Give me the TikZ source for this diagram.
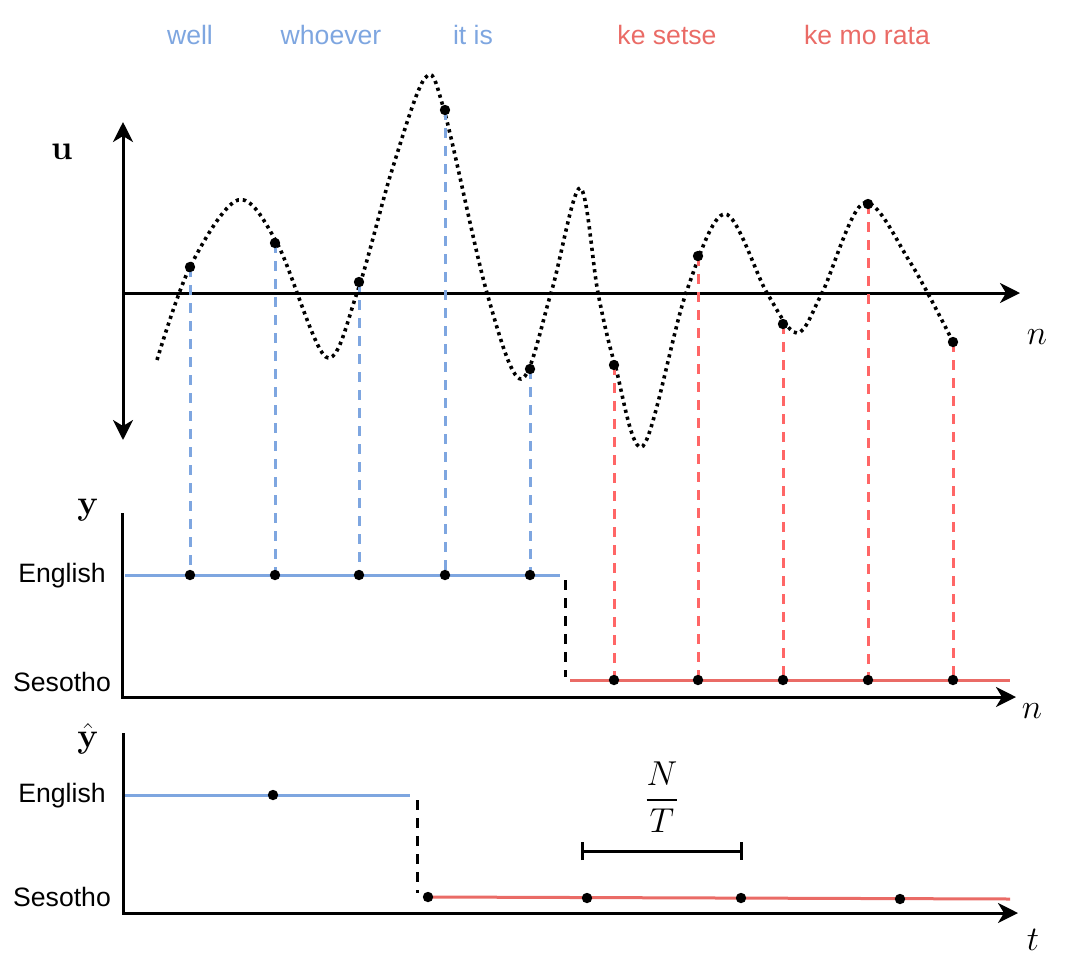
\documentclass[tikz,border=0pt]{standalone}
\usepackage{amsmath}
\usepackage[no-math]{fontspec}
\setmainfont{Liberation Sans}
\usepackage{xcolor}
\usepackage{tikz}
\usetikzlibrary{arrows.meta}

\definecolor{engblue}{HTML}{7EA6E0}
\definecolor{sesred}{HTML}{EA6B66}
\definecolor{sesdash}{HTML}{FF6666}

\begin{document}
\begin{tikzpicture}[x=0.5pt, y=-0.5pt,
    axis/.style = {line width=1.5pt, -{Stealth[length=10pt, width=10pt, inset=3pt]}},
    wave/.style = {line width=1.8pt, dash pattern=on 1.6pt off 2pt},
    engdash/.style = {engblue, line width=1.5pt, dash pattern=on 5pt off 4pt},
    sesdashed/.style = {sesdash, line width=1.5pt, dash pattern=on 5pt off 4pt},
    switch/.style = {line width=1.5pt, dash pattern=on 5pt off 4pt},
    lang/.style = {font=\fontsize{13.3}{16}\selectfont, anchor=base},
    word/.style = {font=\fontsize{13.3}{16}\selectfont, anchor=base},
    mlabel/.style = {font=\fontsize{16}{19}\selectfont}]
    \useasboundingbox (0,0) rectangle (1088,960);
    \def\dotr{2.6pt} \def\yEng{575} \def\ySes{680} \def\hEng{795}

    % words on top
    \node[word, text=engblue] (w1) at (190,44) {well};
    \node[word, text=engblue] (w2) at (331,44) {whoever};
    \node[word, text=engblue] (w3) at (473,44) {it is};
    \node[word, text=sesred] (w4) at (667,44) {ke setse};
    \node[word, text=sesred] (w5) at (867,44) {ke mo rata};

    % signal u
    \coordinate (uTop) at (123,122); \coordinate (uBot) at (123,440);
    \coordinate (uO) at (123,293); \coordinate (uEnd) at (1020,293);
    \draw[line width=1.5pt, {Stealth[length=10pt, width=10pt, inset=3pt]}-{Stealth[length=10pt, width=10pt, inset=3pt]}] (uTop) -- (uBot);
    \draw[axis] (uO) -- (uEnd);
    \node[mlabel] (ulab) at (62,152) {$\mathbf{u}$};
    \node[mlabel] (nlab) at (1037,337) {$n$};
    \draw[wave] plot[smooth, tension=0.55] coordinates {(157,360) (190,267) (238,200) (277,243) (326,357) (357,293) (392,170) (425,78) (444,110) (487,293) (521,379) (551,293) (580,188) (598,293) (615,365) (643,446) (686,293) (725,214) (767,293) (797,333) (822,293) (864,203) (910,262) (953,342)};

    % samples
    \foreach \x/\v [count=\i] in {190/267, 275/243, 359/282, 445/110, 530/369} {
        \coordinate (u\i) at (\x,\v); \coordinate (y\i) at (\x,\yEng);
        \draw[engdash] (u\i) -- (y\i);
    }
    \foreach \x/\v [count=\i from 6] in {614/365, 698/256, 783/324, 868/204, 953/342} {
        \coordinate (u\i) at (\x,\v); \coordinate (y\i) at (\x,\ySes);
        \draw[sesdashed] (u\i) -- (y\i);
    }

    % labels y
    \draw[axis] (122,513) -- (122,697) -- (1016,697);
    \node[mlabel] (ylab) at (88,510) {$\mathbf{y}$};
    \node[mlabel] (nlab2) at (1032,711) {$n$};
    \node[lang] (eng1) at (62,582) {English};
    \node[lang] (ses1) at (62,691) {Sesotho};
    \coordinate (e1a) at (125,\yEng); \coordinate (e1b) at (560,\yEng);
    \coordinate (s1a) at (565,580); \coordinate (s1b) at (565,677);
    \coordinate (r1a) at (570,\ySes); \coordinate (r1b) at (1010,\ySes);
    \draw[engblue, line width=1.5pt] (e1a) -- (e1b);
    \draw[switch] (s1a) -- (s1b);
    \draw[sesred, line width=1.5pt] (r1a) -- (r1b);
    \foreach \i in {1,...,10} { \fill (u\i) circle (\dotr); \fill (y\i) circle (\dotr); }

    % predictions y hat
    \draw[axis] (123,733) -- (123,913) -- (1018,913);
    \node[mlabel] (yhlab) at (88,739) {$\hat{\mathbf{y}}$};
    \node[mlabel] (tlab) at (1033,940) {$t$};
    \node[lang] (eng2) at (62,802) {English};
    \node[lang] (ses2) at (62,906) {Sesotho};
    \coordinate (e2a) at (125,\hEng); \coordinate (e2b) at (410,\hEng);
    \coordinate (s2a) at (417,800); \coordinate (s2b) at (417,893);
    \coordinate (r2a) at (428,897); \coordinate (r2b) at (1010,899);
    \draw[engblue, line width=1.5pt] (e2a) -- (e2b);
    \draw[switch] (s2a) -- (s2b);
    \draw[sesred, line width=1.5pt] (r2a) -- (r2b);
    \foreach \x/\v in {273/795, 428/897, 587/898, 741/898, 900/899}
        \fill (\x,\v) circle (\dotr);

    % window length
    \coordinate (wa) at (581,851); \coordinate (wb) at (743,851);
    \draw[line width=1.5pt, {Bar[width=9pt]}-{Bar[width=9pt]}] (wa) -- (wb);
    \node[mlabel] (frac) at (662,797) {$\dfrac{N}{T}$};
\end{tikzpicture}
\end{document}
